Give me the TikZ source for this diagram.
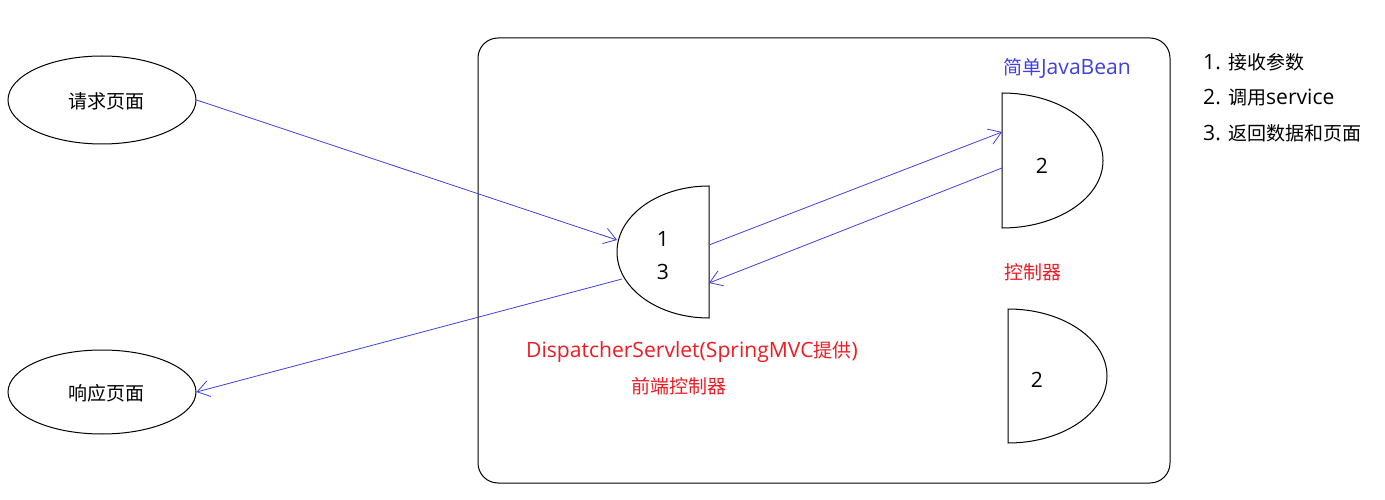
\documentclass[tikz,border=0pt]{standalone}
\usepackage{fontspec}
\setmainfont{Noto Sans CJK SC}
\newfontfamily\lat[Scale=1.11]{Open Sans}
\usetikzlibrary{arrows.meta,shapes.geometric}
\definecolor{myred}{RGB}{236,28,36}
\definecolor{myblue}{RGB}{64,64,224}
\tikzset{
  page/.style={draw=black,line width=1pt,ellipse,minimum width=188pt,minimum height=88pt,inner sep=0pt},
  half/.style={draw=black,line width=1pt},
  conn/.style={draw=myblue,line width=0.8pt,-{Straight Barb[length=12pt,width=16pt,line width=0.8pt]}},
  txt/.style={font=\fontsize{19pt}{23pt}\selectfont,inner sep=0pt},
  redtxt/.style={txt,text=myred},
  bluetxt/.style={txt,text=myblue}
}
\begin{document}
\begin{tikzpicture}[x=1pt,y=-1pt]
\useasboundingbox (0,0) rectangle (1385,500);
% outer rounded box
\draw[line width=1pt,rounded corners=20pt] (478,38) rectangle (1170,483);
% pages
\node[page] (req) at (102,100) {};
\node[txt] at (106,101) {请求页面};
\node[page,minimum height=84pt] (resp) at (102,392) {};
\node[txt] at (106,393) {响应页面};
% front controller
\draw[half] (709,186) arc[start angle=-90,end angle=-270,x radius=92,y radius=66] -- cycle;
\node[txt] at (663,239) {\lat 1};
\node[txt] at (663,272) {\lat 3};
% JavaBean controller
\draw[half] (1002,93) arc[start angle=-90,end angle=90,x radius=101,y radius=67.5] -- cycle;
\node[txt] at (1042,166) {\lat 2};
% lower controller
\draw[half] (1008,309) arc[start angle=-90,end angle=90,x radius=99,y radius=67] -- cycle;
\node[txt] at (1037,380) {\lat 2};
% connector coordinates
\coordinate (fcin) at (617,240);
\coordinate (fcout) at (622,279);
\coordinate (fcright1) at (709,245);
\coordinate (fcright2) at (709,283);
\coordinate (jbin) at (1002,132);
\coordinate (jbout) at (1002,168);
% connectors
\draw[conn] (req.east) -- (fcin);
\draw[conn] (fcout) -- (resp.east);
\draw[conn] (fcright1) -- (jbin);
\draw[conn] (jbout) -- (fcright2);
% labels
\node[bluetxt] at (1067,68) {简单{\lat JavaBean}};
\node[redtxt] at (692,352) {{\lat DispatcherServlet(SpringMVC}提供{\lat )}};
\node[redtxt] at (1033,272) {控制器};
\node[redtxt] at (679,386) {前端控制器};
\node[txt,anchor=west] at (1203,62) {{\lat 1. }接收参数};
\node[txt,anchor=west] at (1203,98) {{\lat 2. }调用{\lat service}};
\node[txt,anchor=west] at (1203,133) {{\lat 3. }返回数据和页面};
\end{tikzpicture}
\end{document}
